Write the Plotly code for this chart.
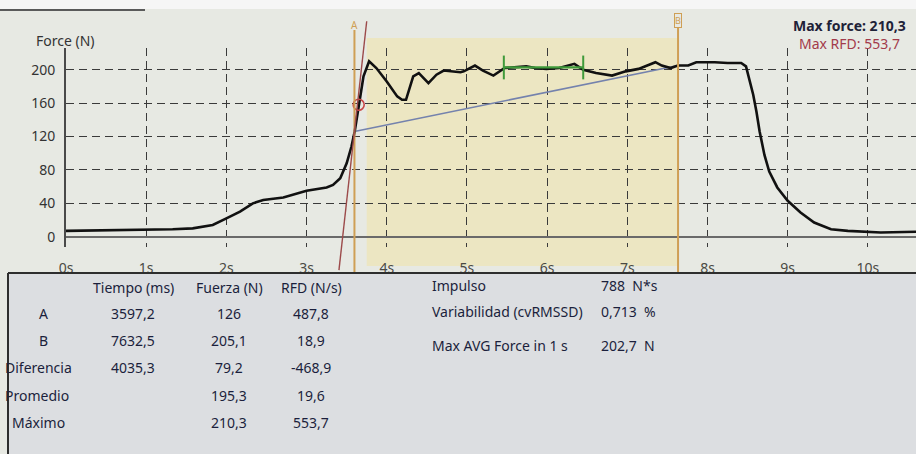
import plotly.graph_objects as go

# ---------------- data ----------------
time_s = [0.0, 0.5, 1.0, 1.33, 1.58, 1.83, 2.0, 2.17, 2.33, 2.46, 2.71, 3.0, 3.25, 3.33, 3.42,
          3.5, 3.56, 3.6, 3.65, 3.71, 3.78, 3.87, 4.0, 4.13, 4.19, 4.24, 4.33, 4.4, 4.52, 4.62,
          4.71, 4.8, 4.92, 4.96, 5.1, 5.2, 5.33, 5.47, 5.6, 5.74, 5.85, 5.99, 6.15, 6.34, 6.45,
          6.61, 6.81, 6.98, 7.14, 7.27, 7.35, 7.43, 7.54, 7.63, 7.76, 7.86, 8.09, 8.25, 8.42,
          8.48, 8.52, 8.57, 8.61, 8.65, 8.71, 8.77, 8.87, 9.0, 9.16, 9.33, 9.54, 9.75, 10.16, 10.6]
force_n = [7, 7.5, 8, 9, 10, 14, 22, 30, 40, 44, 47, 55, 59, 62, 70,
           88, 108, 126, 156, 192, 210, 202, 186, 168, 164, 164, 192, 196, 184, 194,
           199, 198, 197, 198, 205, 199, 193, 202, 203, 204, 202, 201, 202, 207, 200,
           196, 193, 198, 201, 206, 209, 205, 202, 205, 205, 209, 209, 208, 208,
           204, 190, 170, 150, 126, 98, 78, 59, 43, 29, 17, 9, 7, 5, 6]

cursor_a_t, cursor_a_f = 3.5972, 126.0
cursor_b_t, cursor_b_f = 7.6325, 205.1
shade_start_t = 3.75
rfd_point_t, rfd_point_f = 3.65, 158
rfd_line_t = [3.404, 3.75]
rfd_line_f = [-40, 258]
avg1s_t = [5.46, 6.45]
avg1s_f = 202.7

x_ticks = list(range(0, 11))
x_tick_labels = [f"{v}s" for v in x_ticks]
y_ticks = [0, 40, 80, 120, 160, 200]

table_cols = ["Tiempo (ms)", "Fuerza (N)", "RFD (N/s)"]
table_rows = ["A", "B", "Diferencia", "Promedio", "Máximo"]
tiempo_vals = ["3597,2", "7632,5", "4035,3", "", ""]
fuerza_vals = ["126", "205,1", "79,2", "195,3", "210,3"]
rfd_vals = ["487,8", "18,9", "-468,9", "19,6", "553,7"]
extra_labels = ["Impulso", "Variabilidad (cvRMSSD)", "Max AVG Force in 1 s"]
extra_vals = ["788  N*s", "0,713  %", "202,7  N"]

# ---------------- layout geometry ----------------
W, H = 916, 454
L, R, T, B = 66, 0, 48, 207
X_RANGE = [0, 10.6]
Y_RANGE = [-12.3, 226]
PW, PH = W - L - R, H - T - B
PLOT_BOTTOM = H - B


def xp(px):
    return (px - L) / PW


def yp(py):
    return (PLOT_BOTTOM - py) / PH


def fy(f):
    return (f - Y_RANGE[0]) / (Y_RANGE[1] - Y_RANGE[0])


FONT = "Noto Sans"
NAVY = "#1b1f3c"
TAN = "#cf9f55"
TS = 14

fig = go.Figure()

fig.add_trace(go.Scatter(x=[cursor_a_t, cursor_b_t], y=[cursor_a_f, cursor_b_f], mode="lines",
                         line=dict(color="#7482ad", width=1.6), hoverinfo="skip"))
fig.add_trace(go.Scatter(x=time_s, y=force_n, mode="lines",
                         line=dict(color="#111111", width=2.6), hoverinfo="skip"))
fig.add_trace(go.Scatter(x=avg1s_t, y=[avg1s_f, avg1s_f], mode="lines+markers",
                         line=dict(color="#3f9a3a", width=2.2),
                         marker=dict(symbol="line-ns", size=17, line=dict(color="#3f9a3a", width=2)),
                         hoverinfo="skip"))
fig.add_trace(go.Scatter(x=[rfd_point_t], y=[rfd_point_f], mode="markers",
                         marker=dict(symbol="circle-open", size=11, color="#c84646",
                                     line=dict(width=1.6)), hoverinfo="skip"))

shapes = []
shapes.append(dict(type="rect", xref="paper", yref="paper", x0=xp(0), x1=xp(W), y0=yp(9), y1=yp(0),
                   fillcolor="#f6f6f6", line_width=0, layer="below"))
shapes.append(dict(type="rect", xref="paper", yref="paper", x0=xp(0), x1=xp(145), y0=yp(11), y1=yp(9),
                   fillcolor="#5a5a5a", line_width=0, layer="below"))
shapes.append(dict(type="rect", xref="x", yref="paper", x0=shade_start_t, x1=cursor_b_t,
                   y0=yp(266), y1=yp(38), fillcolor="#ece6c2", line_width=0, layer="below"))
shapes.append(dict(type="rect", xref="paper", yref="paper", x0=xp(8), x1=xp(W + 5), y0=yp(H + 5),
                   y1=yp(273), fillcolor="#dcdee1", line_width=0, layer="below"))
shapes.append(dict(type="line", xref="paper", yref="paper", x0=xp(8), x1=xp(W + 5), y0=yp(273),
                   y1=yp(273), line=dict(color="#2e2e2e", width=2)))
shapes.append(dict(type="line", xref="paper", yref="paper", x0=xp(8), x1=xp(8), y0=yp(273),
                   y1=yp(H + 5), line=dict(color="#2e2e2e", width=2)))
shapes.append(dict(type="line", xref="x", yref="paper", x0=cursor_a_t, x1=cursor_a_t,
                   y0=yp(272), y1=yp(30), line=dict(color=TAN, width=2)))
shapes.append(dict(type="line", xref="x", yref="paper", x0=cursor_b_t, x1=cursor_b_t,
                   y0=yp(272), y1=yp(27), line=dict(color=TAN, width=2)))
shapes.append(dict(type="line", xref="x", yref="paper", x0=rfd_line_t[0], x1=rfd_line_t[1],
                   y0=fy(rfd_line_f[0]), y1=fy(rfd_line_f[1]), line=dict(color="#9c4a4a", width=1.4)))

ann = []
ann.append(dict(text="Force (N)", x=xp(34), y=yp(40), xanchor="left", yanchor="middle",
                font=dict(size=14, color="#333333")))
ann.append(dict(text="<b>Max force: 210,3</b>", x=xp(791), y=yp(25), xanchor="left", yanchor="middle",
                font=dict(size=14, color="#1e2238")))
ann.append(dict(text="Max RFD: 553,7", x=xp(797), y=yp(43), xanchor="left", yanchor="middle",
                font=dict(size=14, color="#a33a4a")))
ann.append(dict(text="A", x=cursor_a_t, xref="x", y=yp(25), xanchor="center", yanchor="middle",
                font=dict(size=10, color=TAN)))
ann.append(dict(text="B", x=cursor_b_t, xref="x", y=yp(20), xanchor="center", yanchor="middle",
                font=dict(size=9, color=TAN), bordercolor=TAN, borderwidth=1, borderpad=0,
                bgcolor="rgba(0,0,0,0)"))

col_x = [133, 229, 311]
row_y = [313, 340, 367, 395, 422]
row_x = [43, 43, 3, 3, 10]
row_anchor = ["center", "center", "left", "left", "left"]
for cx, name in zip(col_x, table_cols):
    ann.append(dict(text=name, x=xp(cx), y=yp(287), xanchor="center", yanchor="middle",
                    font=dict(size=TS, color=NAVY)))
for i, name in enumerate(table_rows):
    ann.append(dict(text=name, x=xp(row_x[i]), y=yp(row_y[i]), xanchor=row_anchor[i], yanchor="middle",
                    font=dict(size=TS, color=NAVY)))
    for cx, vals in zip(col_x, [tiempo_vals, fuerza_vals, rfd_vals]):
        if vals[i]:
            ann.append(dict(text=vals[i], x=xp(cx), y=yp(row_y[i]), xanchor="center", yanchor="middle",
                            font=dict(size=TS, color=NAVY)))
extra_y = [285, 311, 345]
for lab, val, ey in zip(extra_labels, extra_vals, extra_y):
    ann.append(dict(text=lab, x=xp(430), y=yp(ey), xanchor="left", yanchor="middle",
                    font=dict(size=TS, color=NAVY)))
    ann.append(dict(text=val, x=xp(599), y=yp(ey), xanchor="left", yanchor="middle",
                    font=dict(size=TS, color=NAVY)))
for a in ann:
    a.setdefault("xref", "paper")
    a.setdefault("yref", "paper")
    a["showarrow"] = False

fig.update_layout(
    width=W, height=H,
    margin=dict(l=L, r=R, t=T, b=B, pad=0),
    paper_bgcolor="#e7e9e3",
    plot_bgcolor="rgba(0,0,0,0)",
    showlegend=False,
    font=dict(family=FONT, color="#333333"),
    shapes=shapes,
    annotations=ann,
    xaxis=dict(range=X_RANGE, tickvals=x_ticks, ticktext=x_tick_labels, showgrid=True,
               gridcolor="#3a3a3a", gridwidth=1.4, griddash="8px,5px", zeroline=False,
               showline=False, ticks="", ticklabelstandoff=11,
               tickfont=dict(size=14, color="#4a4a44"), fixedrange=True),
    yaxis=dict(range=Y_RANGE, tickvals=y_ticks, showgrid=True, gridcolor="#3a3a3a", gridwidth=1.4,
               griddash="8px,5px", zeroline=True, zerolinecolor="#6a6a6a", zerolinewidth=2,
               showline=True, linecolor="#4a4a4a", linewidth=2, ticks="", ticklabelstandoff=6,
               tickfont=dict(size=14, color="#333333"), fixedrange=True),
)

fig.write_html("out.html", config={"displayModeBar": False},
               post_script="document.body.style.margin='0';document.body.style.overflow='hidden';")
